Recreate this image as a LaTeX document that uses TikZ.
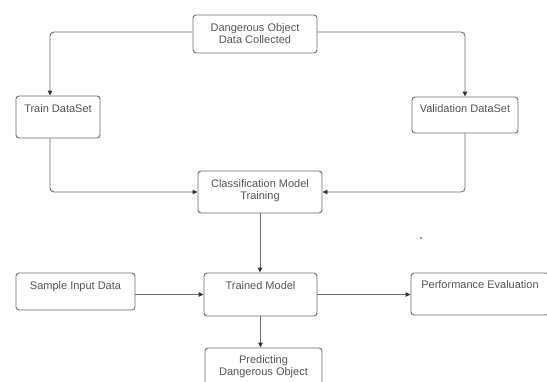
\documentclass[tikz,border=0pt]{standalone}
\usepackage{fontspec}
\setmainfont{Liberation Sans}
\usetikzlibrary{arrows.meta}
\definecolor{linec}{HTML}{6E6E6E}
\definecolor{textc}{HTML}{555555}
\definecolor{tipc}{HTML}{333333}
\definecolor{dotc}{HTML}{2A2A70}
\begin{document}
\begin{tikzpicture}[x=1pt,y=-1pt,
  box/.style={draw=linec, line width=0.9pt, rounded corners=3pt, inner sep=0pt, fill=white},
  txt/.style={text=textc, font=\fontsize{11}{11.5}\selectfont, align=center, inner sep=0pt, anchor=base},
  conn/.style={draw=linec, line width=0.9pt, rounded corners=4pt, -{Triangle[length=5pt,width=4.5pt,color=tipc]}}
]
\fill[white] (0,0) rectangle (547,381);
\useasboundingbox (0,0) rectangle (547,381);

% boxes
\node[box, minimum width=124pt, minimum height=38pt] (top) at (255,34) {};
\node[box, minimum width=84pt, minimum height=42pt] (train) at (58,117) {};
\node[box, minimum width=106pt, minimum height=36pt] (valid) at (465,115) {};
\node[box, minimum width=124pt, minimum height=42pt] (class) at (260,192) {};
\node[box, minimum width=113pt, minimum height=43pt] (trained) at (260.5,294.5) {};
\node[box, minimum width=119pt, minimum height=37pt] (sample) at (75.5,291.5) {};
\node[box, minimum width=138pt, minimum height=42pt] (perf) at (480,294) {};
\node[box, minimum width=117pt, minimum height=47pt] (pred) at (263.5,371.5) {};

% texts (base = baseline of last line)
\node[txt] (topT) at (255,43) {Dangerous Object\\Data Collected};
\node[txt] (trainT) at (58,112) {Train DataSet};
\node[txt] (validT) at (465,112) {Validation DataSet};
\node[txt] (classT) at (260,199) {Classification Model\\Training};
\node[txt] (trainedT) at (260.5,289) {Trained Model};
\node[txt] (sampleT) at (75.5,289) {Sample Input Data};
\node[txt] (perfT) at (480,288) {Performance Evaluation};
\node[txt] (predT) at (263.5,375) {Predicting\\Dangerous Object};

% connectors
\draw[conn] ([yshift=2pt]top.west) -| ([xshift=-8pt]train.north);
\draw[conn] ([yshift=2pt]top.east) -| (valid.north);
\draw[conn] ([xshift=-8pt]train.south) |- (class.west);
\draw[conn] (valid.south) |- (class.east);
\draw[conn] (class.south) -- (class.south |- trained.north);
\draw[conn] (sample.east |- trained.west) -- (trained.west);
\draw[conn] (trained.east) -- (trained.east -| perf.west);
\draw[conn] (trained.south) -- (trained.south |- pred.north);

% stray dot
\fill[dotc] (421,238) circle (0.9pt);
\end{tikzpicture}
\end{document}
